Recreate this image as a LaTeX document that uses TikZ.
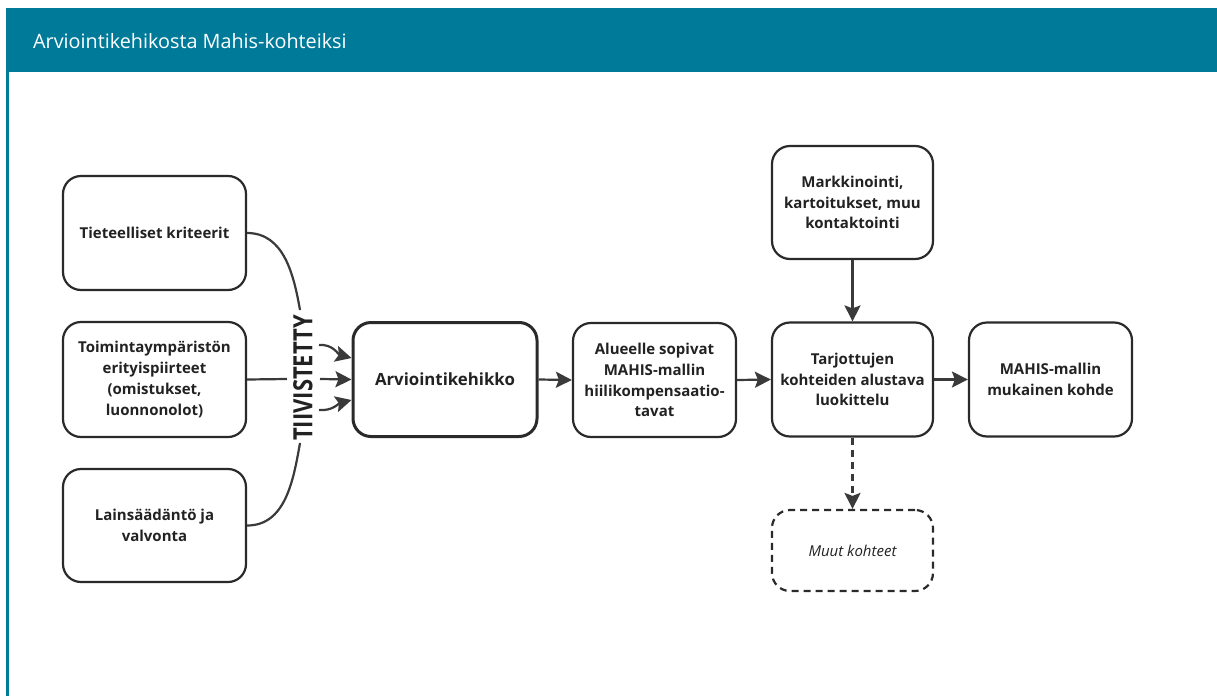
\documentclass[tikz,border=0pt]{standalone}
\usepackage{fontspec}
\setmainfont{Open Sans}
\usetikzlibrary{arrows.meta}
\definecolor{hdrteal}{HTML}{007A99}
\definecolor{boxc}{HTML}{2A2A2A}
\definecolor{txtc}{HTML}{222222}
\definecolor{arrc}{HTML}{3A3A3A}
\begin{document}
\begin{tikzpicture}[x=1pt,y=-1pt,
  box/.style={draw=boxc, line width=2.2pt, rounded corners=18pt, align=center,
    font=\bfseries\fontsize{15}{20.8}\selectfont, text=txtc, inner sep=0pt},
  arr/.style={draw=arrc, line width=2.2pt, -{Stealth[length=16pt,width=16pt,inset=3pt]}},
  ln/.style={draw=arrc, line width=2.2pt}]
\useasboundingbox (0,0) rectangle (1217,696);
\fill[white] (0,0) rectangle (1217,696);
% header
\fill[hdrteal] (6,8) rectangle (1217,72);
\node[anchor=west, text=white, font=\fontsize{19.8}{23}\selectfont, inner sep=0pt] (title) at (33,41) {Arviointikehikosta Mahis-kohteiksi};
\draw[hdrteal, line width=2.6pt] (7.5,72) -- (7.5,696);
% left boxes
\node[box, minimum width=183pt, minimum height=114pt] (t1) at (154.5,233) {Tieteelliset kriteerit};
\node[box, minimum width=183pt, minimum height=115pt] (t2) at (154.5,379.5) {Toimintaympäristön\\erityispiirteet\\(omistukset,\\luonnonolot)};
\node[box, minimum width=183pt, minimum height=113pt] (t3) at (154.5,525.5) {Lainsäädäntö ja\\valvonta};
% TIIVISTETTY
\node[rotate=90, font=\bfseries\fontsize{26.5}{28}\selectfont, text=txtc, inner sep=0pt] (tv) at (303,378) {\scalebox{0.83}[1]{TIIVISTETTY}};
\coordinate (tvtop) at (300,310);
\coordinate (tvbot) at (300,443);
\coordinate (tvl) at (287,379);
\coordinate (tvr) at (320,379);
\coordinate (tvu) at (319,345);
\coordinate (tvd) at (319,410);
% main chain
\node[box, line width=3pt, minimum width=184pt, minimum height=114pt, font=\bfseries\fontsize{16.8}{20}\selectfont] (ak) at (445,379.5) {Arviointikehikko};
\node[box, minimum width=163pt, minimum height=114pt] (al) at (654.5,380) {Alueelle sopivat\\MAHIS-mallin\\hiilikompensaatio-\\tavat};
\node[box, minimum width=161pt, minimum height=114pt] (ta) at (852.5,379.5) {Tarjottujen\\kohteiden alustava\\luokittelu};
\node[box, minimum width=163pt, minimum height=114pt] (mm) at (1050.5,379.5) {MAHIS-mallin\\mukainen kohde};
\node[box, minimum width=161pt, minimum height=113pt] (mk) at (852.5,202.5) {Markkinointi,\\kartoitukset, muu\\kontaktointi};
\node[box, dashed, dash pattern=on 7pt off 5pt, minimum width=161pt, minimum height=81pt, font=\itshape\fontsize{15}{20}\selectfont] (mu) at (852.5,550.5) {Muut kohteet};
% connectors
\draw[ln] (t1.east) to[out=0,in=100] (tvtop);
\draw[ln] (t3.east) to[out=0,in=-100] (tvbot);
\draw[ln] (t2.east) -- (tvl);
\draw[arr] (tvr) -- (ak.west);
\draw[arr] (tvu) to[out=5,in=165] (ak.west |- 0,358);
\draw[arr] (tvd) to[out=-5,in=195] (ak.west |- 0,400);
\draw[arr] (ak.east) -- (al.west);
\draw[arr] (al.east) -- (ta.west);
\draw[arr] (ta.east) -- (mm.west);
\draw[arr] (mk.south) -- (ta.north);
\draw[arr, dashed, dash pattern=on 7pt off 5pt] (ta.south) -- (mu.north);
\end{tikzpicture}
\end{document}
